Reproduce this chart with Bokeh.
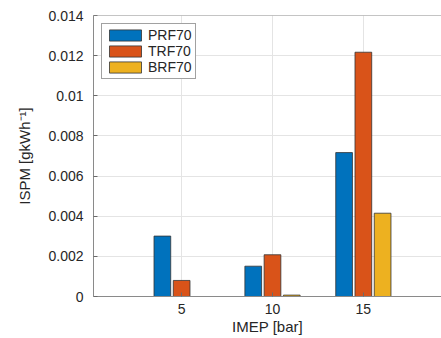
from bokeh.plotting import figure
from bokeh.models import ColumnDataSource, Range1d, FixedTicker, Legend, LegendItem, Span
from bokeh.embed import file_html
from bokeh.resources import INLINE

imep = [5, 10, 15]
series = ["PRF70", "TRF70", "BRF70"]
prf70 = [0.00301, 0.00151, 0.00717]
trf70 = [0.00080, 0.00208, 0.01217]
brf70 = [0.0, 0.00007, 0.00415]
colors = ["#0072BD", "#D95319", "#EDB120"]
y_ticks = [0, 0.002, 0.004, 0.006, 0.008, 0.01, 0.012, 0.014]
y_labels = ["0", "0.002", "0.004", "0.006", "0.008", "0.01", "0.012", "0.014"]

FONT = "Liberation Sans"
TXT = "#262626"

p = figure(width=441, height=338, output_backend="svg", toolbar_location=None,
           x_range=Range1d(0.15, 19.3), y_range=Range1d(0, 0.014),
           min_border_left=93, min_border_right=0, min_border_top=15,
           min_border_bottom=42)
p.outline_line_color = None

offsets = [-1.06, 0.0, 1.06]
items = []
for name, vals, off, c in zip(series, [prf70, trf70, brf70], offsets, colors):
    src = ColumnDataSource(dict(x=[v + off for v in imep], top=vals))
    r = p.vbar(x="x", top="top", bottom=0, width=0.92, source=src,
               fill_color=c, line_color="#333333", line_width=0.8)
    items.append(LegendItem(label=name, renderers=[r]))

legend = Legend(items=items, location="top_left", margin=8,
                padding=3, spacing=0, glyph_width=40, glyph_height=14,
                label_standoff=3, label_text_font=FONT, label_text_font_size="14px",
                label_text_color=TXT, label_height=14,
                border_line_color="#444444", border_line_width=1,
                background_fill_color="white", background_fill_alpha=1)
p.add_layout(legend)

p.xaxis.ticker = FixedTicker(ticks=imep)
p.yaxis.ticker = FixedTicker(ticks=y_ticks)
p.yaxis.major_label_overrides = {t: l for t, l in zip(y_ticks, y_labels)}

for ax in (p.xaxis, p.yaxis):
    ax.major_tick_in = 4
    ax.major_tick_out = 0
    ax.minor_tick_line_color = None
    ax.axis_line_color = "#8a8a8a"
    ax.major_tick_line_color = "#6a6a6a"
    ax.major_label_text_font = FONT
    ax.major_label_text_font_size = "14px"
    ax.major_label_text_color = TXT
    ax.axis_label_text_font = FONT
    ax.axis_label_text_font_size = "15px"
    ax.axis_label_text_font_style = "normal"
    ax.axis_label_text_color = TXT

p.xaxis.axis_label = "IMEP [bar]"
p.yaxis.axis_label = "ISPM [gkWh\u207b\u00b9]"
p.xaxis.major_label_standoff = 7
p.xaxis.axis_label_standoff = 1
p.yaxis.major_label_standoff = 10
p.yaxis.axis_label_standoff = 12

p.xgrid.grid_line_color = "#e4e4e4"
p.ygrid.grid_line_color = "#e4e4e4"

p.add_layout(Span(location=0.014, dimension="width", line_color="#8a8a8a", line_width=1))

open("out.html", "w").write(file_html(p, INLINE))
